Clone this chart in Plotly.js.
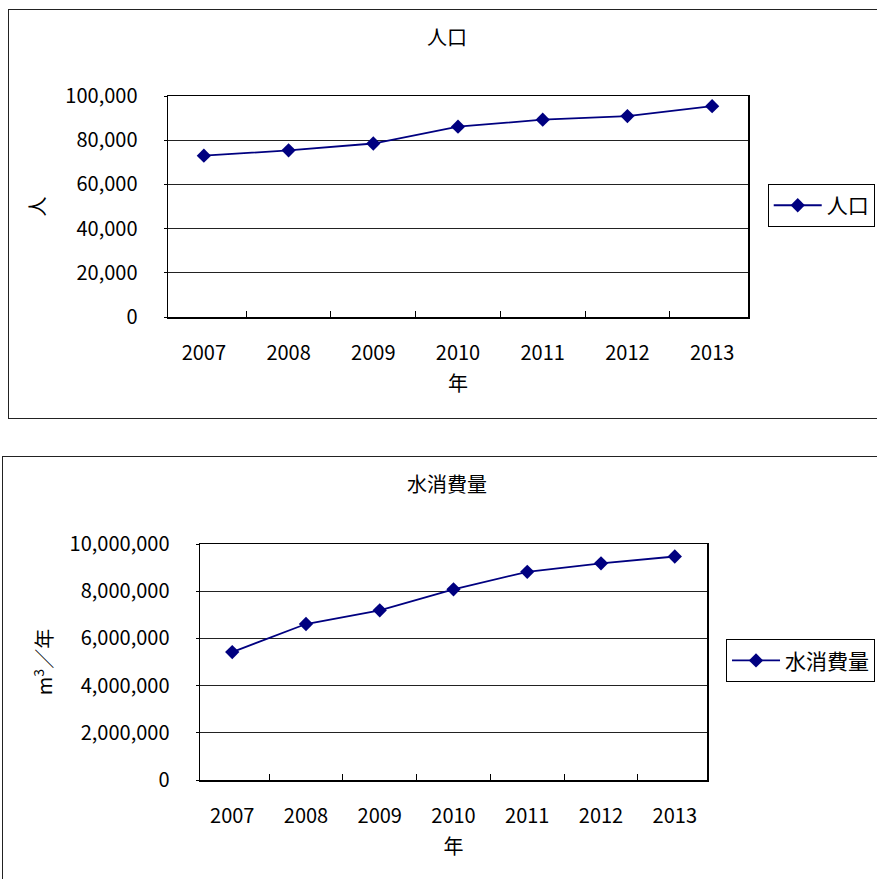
<!DOCTYPE html>
<html>
<head>
<meta charset="utf-8">
<script src="https://cdn.plot.ly/plotly-3.0.1.min.js"></script>
<style>
  html, body { margin: 0; padding: 0; overflow: hidden; background: #fff; width: 877px; height: 879px; }
  .frame { position: absolute; border: 1.5px solid #222; box-sizing: border-box; }
  .chart { position: absolute; left: 0; width: 877px; }
</style>
</head>
<body>
<div class="frame" style="left:8px;top:9px;width:900px;height:410px"></div>
<div class="frame" style="left:2px;top:456px;width:900px;height:440px"></div>
<div id="pop" class="chart" style="top:0;height:430px"></div>
<div id="water" class="chart" style="top:450px;height:429px"></div>
<script>
// 年ごとの人口と水消費量
const years = ['2007', '2008', '2009', '2010', '2011', '2012', '2013'];
const population = [73000, 75400, 78500, 86100, 89300, 90900, 95400];
const waterUse = [5420000, 6610000, 7190000, 8080000, 8820000, 9180000, 9470000];

const FONT = '"Noto Sans CJK JP", "Noto Sans", sans-serif';
const SIZE = 20;
const NAVY = '#000080';

function lineTrace(name, y) {
  return {
    type: 'scatter', mode: 'lines+markers', name: name,
    x: years, y: y,
    line: { color: NAVY, width: 1.8 },
    marker: { symbol: 'diamond', size: 11, color: NAVY }
  };
}

function chartLayout(o) {
  return {
    width: 877, height: o.height,
    margin: Object.assign({ autoexpand: false, pad: 0 }, o.margin),
    paper_bgcolor: 'rgba(0,0,0,0)', plot_bgcolor: '#fff',
    font: { family: FONT, size: SIZE, color: '#000' },
    title: {
      text: o.title, font: { family: FONT, size: SIZE, color: '#000' },
      xref: 'container', yref: 'container', x: 447 / 877, y: o.titleY,
      xanchor: 'center', yanchor: 'middle'
    },
    showlegend: true,
    legend: {
      x: o.legendX, y: o.legendY, xanchor: 'left', yanchor: 'middle',
      bordercolor: '#000', borderwidth: 1, bgcolor: '#fff',
      font: { family: FONT, size: 21, color: '#000' }, itemwidth: 48
    },
    xaxis: {
      type: 'category', showline: true, mirror: true, linecolor: '#000', linewidth: 1.5,
      ticks: 'inside', tickson: 'boundaries', ticklen: 6, tickcolor: '#000', tickwidth: 1,
      showgrid: false, ticklabelstandoff: 17, automargin: false,
      title: { text: '年', standoff: 12, font: { family: FONT, size: SIZE } }
    },
    yaxis: {
      range: o.yRange, dtick: o.dtick, tickformat: ',', zeroline: false,
      showgrid: true, gridcolor: '#222', gridwidth: 1,
      showline: true, mirror: true, linecolor: '#000', linewidth: 1.5,
      ticks: 'outside', ticklen: 3, tickcolor: '#000', ticklabelstandoff: 22, automargin: false,
      title: { text: o.yTitle, standoff: o.yStandoff, font: { family: FONT, size: SIZE } }
    }
  };
}

const config = { displayModeBar: false, staticPlot: true };

Plotly.newPlot('pop', [lineTrace('人口', population)], chartLayout({
  height: 430, title: '人口', titleY: 1 - 38 / 430,
  margin: { l: 168, r: 129, t: 95.5, b: 113.3 },
  legendX: 1.034, legendY: 0.504,
  yRange: [0, 100000], dtick: 20000,
  yTitle: '人', yStandoff: 14
}), config);

Plotly.newPlot('water', [lineTrace('水消費量', waterUse)], chartLayout({
  height: 429, title: '水消費量', titleY: 1 - 35 / 429,
  margin: { l: 200, r: 170.3, t: 94.3, b: 98.7 },
  legendX: 1.0375, legendY: 0.505,
  yRange: [0, 10000000], dtick: 2000000,
  yTitle: 'm<sup>3</sup>／年', yStandoff: 11
}), config);
</script>
</body>
</html>
